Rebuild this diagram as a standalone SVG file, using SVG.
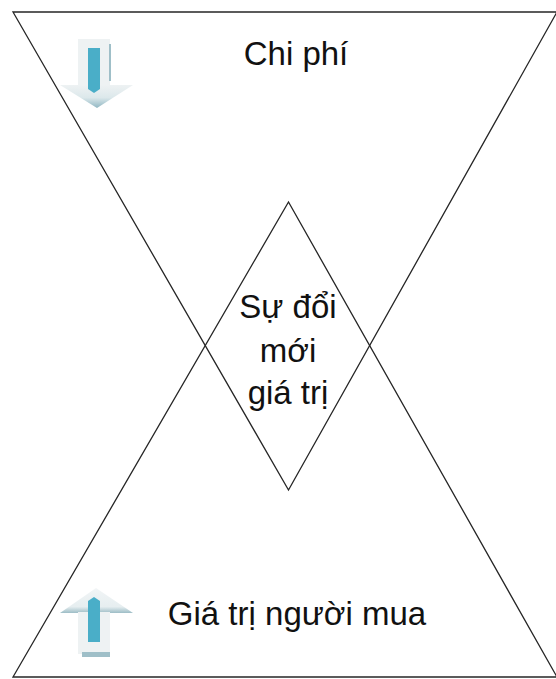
<svg xmlns="http://www.w3.org/2000/svg" width="556" height="679" viewBox="0 0 556 679">
  <defs>
    <linearGradient id="headDown" x1="0" y1="0" x2="0" y2="1">
      <stop offset="0" stop-color="#eef2f3"/>
      <stop offset="0.55" stop-color="#dce8eb"/>
      <stop offset="1" stop-color="#8fb6c2"/>
    </linearGradient>
    <linearGradient id="headUp" x1="0" y1="0" x2="0" y2="1">
      <stop offset="0" stop-color="#f2f5f6"/>
      <stop offset="0.75" stop-color="#e6eef0"/>
      <stop offset="1" stop-color="#9dbdc6"/>
    </linearGradient>
  </defs>
  <style>
    .tri { fill: none; stroke: #262626; stroke-width: 1.3; stroke-linejoin: miter; }
    .lbl { font-family: "Liberation Sans", Arial, sans-serif; font-size: 33px; fill: #111111; }
    .pale { fill: #eef2f3; }
    .blue { fill: #4aaec8; }
    .shade { fill: #9fbfc8; }
  </style>
  <rect width="556" height="679" fill="#ffffff"/>

  <g id="cost">
    <polygon class="tri" points="13,12 557,12 288.5,490"/>
    <g id="cost-icon">
      <rect class="pale" x="78" y="39" width="32" height="47"/>
      <polygon points="60,85 133,85 97,108" fill="url(#headDown)"/>
      <rect class="shade" x="109" y="44" width="2" height="37"/>
      <polygon class="blue" points="88,48 100,48 100,89 94,93 88,89"/>
    </g>
    <text class="lbl" x="296" y="65" text-anchor="middle">Chi phí</text>
  </g>

  <g id="value">
    <polygon class="tri" points="13,677 557,677 288.5,202"/>
    <g id="value-icon">
      <polygon points="96,588 133,613 60,613" fill="url(#headUp)"/>
      <rect class="pale" x="78" y="612" width="32" height="42"/>
      <rect class="shade" x="82" y="652" width="28" height="5"/>
      <polygon class="blue" points="88,601 94,597 100,601 100,642 88,642"/>
    </g>
    <text class="lbl" x="297" y="625" text-anchor="middle">Giá trị người mua</text>
  </g>

  <g id="innovation">
    <text class="lbl" x="288" y="318" text-anchor="middle">Sự đổi</text>
    <text class="lbl" x="288" y="362" text-anchor="middle">mới</text>
    <text class="lbl" x="288" y="404" text-anchor="middle">giá trị</text>
  </g>

  <g id="connectors"/>
</svg>
